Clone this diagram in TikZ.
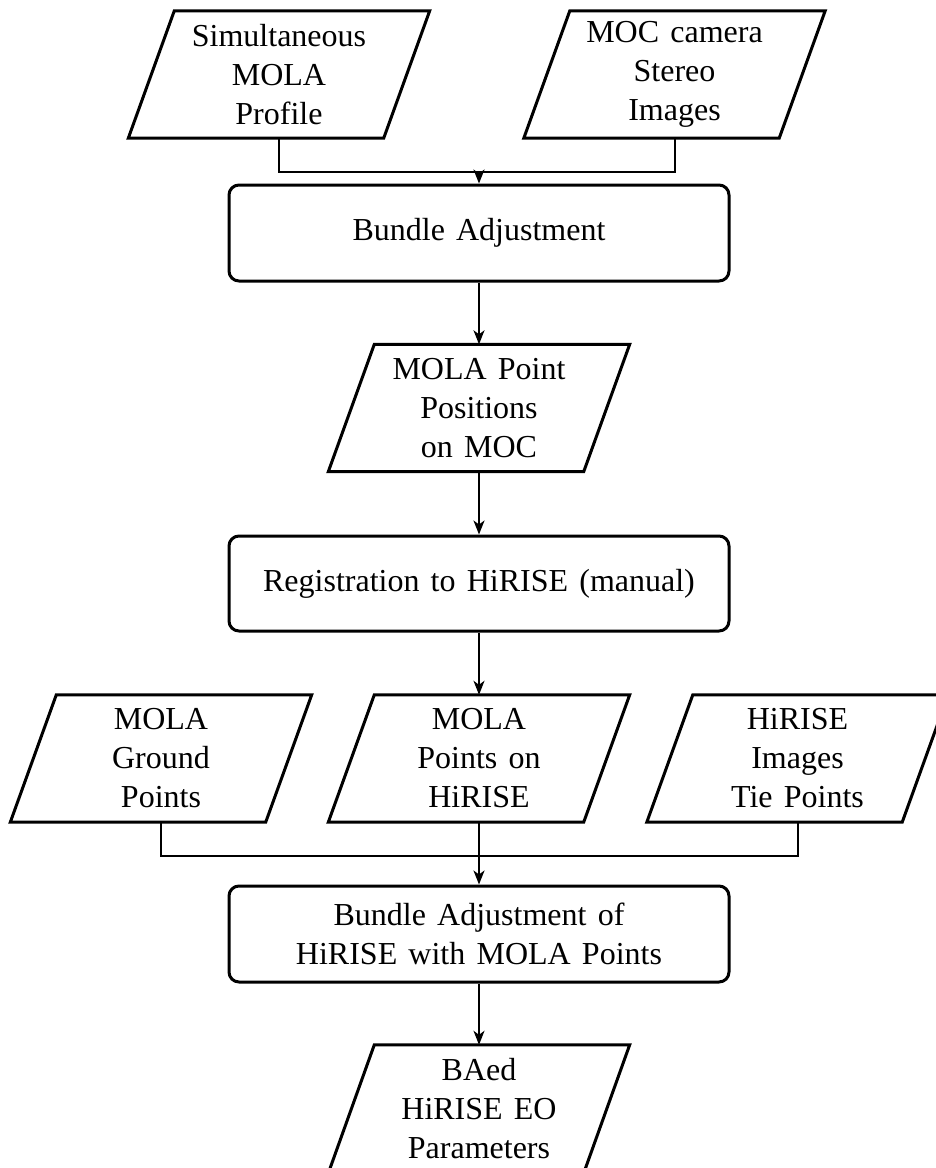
\documentclass[tikz,border=0pt]{standalone}
\usepackage{fontspec}
\setmainfont{Liberation Serif}[WordSpace=1.4]
\usetikzlibrary{arrows.meta}
\begin{document}
\begin{tikzpicture}[x=1pt,y=-1pt,
  every node/.style={font=\fontsize{32}{39}\selectfont, align=center, inner sep=0pt},
  datanode/.style={minimum width=255pt, minimum height=127pt},
  procbox/.style={draw, line width=3pt, rounded corners=10pt, minimum width=500pt, minimum height=96pt},
  border/.style={line width=3pt, line join=miter},
  conn/.style={line width=2pt},
  flow/.style={line width=2pt, -{Stealth[length=14pt,width=11pt,inset=4pt]}}]
\useasboundingbox (0,0) rectangle (936,1168);

% input data and process steps
\node[datanode] (sim) at (279,74.5) {Simultaneous\\MOLA\\Profile};
\node[datanode] (moc) at (674.5,74.5) {MOC camera\\Stereo\\Images};
\node[procbox] (ba) at (479,233) {Bundle Adjustment};
\node[datanode] (pos) at (479,408) {MOLA Point\\Positions\\on MOC};
\node[procbox, minimum height=95pt] (reg) at (479,583.5) {Registration to HiRISE (manual)};
\node[datanode] (gnd) at (161,758.5) {MOLA\\Ground\\Points};
\node[datanode] (pts) at (479,758.5) {MOLA\\Points on\\HiRISE};
\node[datanode] (tie) at (797.5,758.5) {HiRISE\\Images\\Tie Points};
\node[procbox] (bah) at (479,934) {Bundle Adjustment of\\HiRISE with MOLA Points};
\node[datanode, minimum height=128pt] (eo) at (479,1109) {BAed\\HiRISE EO\\Parameters};

% slanted outlines of the data nodes
\foreach \n in {sim,moc,pos,gnd,pts,tie,eo}
  \draw[border] ([xshift=-23pt]\n.south west) -- ([xshift=-23pt]\n.south east)
    -- ([xshift=23pt]\n.north east) -- ([xshift=23pt]\n.north west) -- cycle;

% junction points where inputs merge
\coordinate (j1) at (479,172);
\coordinate (j2) at (479,856);

% connectors
\draw[conn] (sim.south) |- (j1) -| (moc.south);
\draw[flow] (j1) -- (ba.north);
\draw[flow] (ba.south) -- (pos.north);
\draw[flow] (pos.south) -- (reg.north);
\draw[flow] (reg.south) -- (pts.north);
\draw[conn] (gnd.south) |- (j2) -| (tie.south);
\draw[flow] (pts.south) -- (bah.north);
\draw[flow] (bah.south) -- (eo.north);
\end{tikzpicture}
\end{document}
